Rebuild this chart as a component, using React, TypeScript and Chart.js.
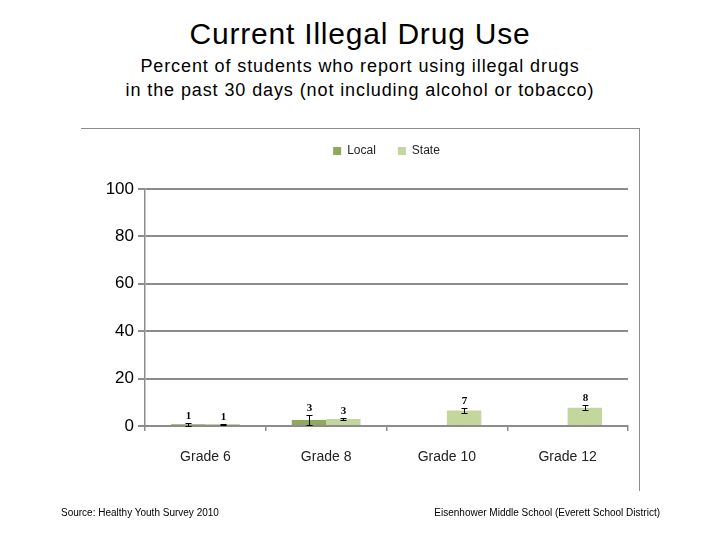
import React, { useEffect, useRef } from 'react';
import { Chart, registerables } from 'chart.js';

Chart.register(...registerables);

const categories = ['Grade 6', 'Grade 8', 'Grade 10', 'Grade 12'];
const seriesNames = ['Local', 'State'];
const localValues: (number | null)[] = [0.7, 2.5, null, null];
const stateValues: (number | null)[] = [0.8, 3.0, 6.5, 7.7];
const localLow: (number | null)[] = [0.2, 0.5, null, null];
const localHigh: (number | null)[] = [1.3, 4.6, null, null];
const stateLow: (number | null)[] = [0.6, 2.7, 5.6, 6.6];
const stateHigh: (number | null)[] = [1.0, 3.3, 7.4, 8.9];
const yMin = 0;
const yMax = 100;
const yStep = 20;

const titleText = 'Current Illegal Drug Use';
const subtitleLines = [
  'Percent of students who report using illegal drugs',
  'in the past 30 days (not including alcohol or tobacco)',
];
const sourceText = 'Source: Healthy Youth Survey 2010';
const schoolText = 'Eisenhower Middle School (Everett School District)';

const LOCAL_COLOR = '#8fa85a';
const STATE_COLOR = '#c3d69b';
const AXIS_GRAY = '#8c8c8c';

const errorBarPlugin = {
  id: 'errorBars',
  afterDatasetsDraw(chart: any) {
    const ctx = chart.ctx;
    const yScale = chart.scales.y;
    const vals = [localValues, stateValues];
    const lows = [localLow, stateLow];
    const highs = [localHigh, stateHigh];
    chart.data.datasets.forEach((_ds: any, di: number) => {
      const meta = chart.getDatasetMeta(di);
      meta.data.forEach((bar: any, i: number) => {
        const v = vals[di][i];
        const lo = lows[di][i];
        const hi = highs[di][i];
        if (v == null || lo == null || hi == null) return;
        const x = Math.round(bar.x) + 0.5;
        const yLo = Math.round(yScale.getPixelForValue(lo)) + 0.5;
        const yHi = Math.round(yScale.getPixelForValue(hi)) + 0.5;
        ctx.save();
        ctx.strokeStyle = '#000';
        ctx.lineWidth = 1;
        ctx.beginPath();
        ctx.moveTo(x, yLo);
        ctx.lineTo(x, yHi);
        ctx.moveTo(x - 3, yLo);
        ctx.lineTo(x + 3, yLo);
        ctx.moveTo(x - 3, yHi);
        ctx.lineTo(x + 3, yHi);
        ctx.stroke();
        ctx.font = 'bold 11px "Liberation Serif", "Times New Roman", serif';
        ctx.textAlign = 'center';
        ctx.textBaseline = 'bottom';
        ctx.fillStyle = '#000';
        ctx.fillText(String(Math.round(v)), x, yHi - 2);
        ctx.restore();
      });
    });
  },
};

function ChartCanvas() {
  const ref = useRef<HTMLCanvasElement | null>(null);
  useEffect(() => {
    if (!ref.current) return;
    const chart = new Chart(ref.current, {
      type: 'bar',
      data: {
        labels: categories,
        datasets: [
          {
            label: seriesNames[0],
            data: localValues,
            backgroundColor: LOCAL_COLOR,
            borderWidth: 0,
            categoryPercentage: 0.57,
            barPercentage: 1,
          },
          {
            label: seriesNames[1],
            data: stateValues,
            backgroundColor: STATE_COLOR,
            borderWidth: 0,
            categoryPercentage: 0.57,
            barPercentage: 1,
          },
        ],
      },
      options: {
        responsive: false,
        animation: false,
        devicePixelRatio: 1,
        layout: { padding: { top: 123, right: 92, bottom: 0, left: 0 } },
        plugins: {
          legend: {
            position: 'top',
            fullSize: false,
            labels: {
              boxWidth: 8,
              boxHeight: 8,
              padding: 22,
              color: '#222',
              font: { family: '"Liberation Sans", Arial, sans-serif', size: 12 },
            },
          },
          title: {
            display: true,
            text: '',
            weight: 500,
            padding: { top: 21, bottom: 0 },
            font: { size: 1, lineHeight: 1 },
          },
          tooltip: { enabled: false },
        },
        scales: {
          x: {
            grid: {
              offset: true,
              drawOnChartArea: false,
              tickLength: 5,
              color: AXIS_GRAY,
              lineWidth: 1.5,
            },
            border: { color: AXIS_GRAY, width: 2 },
            ticks: {
              padding: 18,
              color: '#222',
              font: {
                family: '"Liberation Sans Narrow", "Arial Narrow", "Liberation Sans", Arial, sans-serif',
                size: 14,
              },
            },
            afterFit(scale: any) {
              scale.height = 114;
            },
          },
          y: {
            min: yMin,
            max: yMax,
            ticks: {
              stepSize: yStep,
              padding: 4,
              color: '#000',
              font: { family: '"Liberation Sans", Arial, sans-serif', size: 17 },
            },
            grid: { color: AXIS_GRAY, lineWidth: 2, tickLength: 7 },
            border: { color: AXIS_GRAY, width: 1.5 },
            afterFit(scale: any) {
              scale.width = 145;
            },
          },
        },
      },
      plugins: [errorBarPlugin],
    } as any);
    return () => chart.destroy();
  }, []);
  return (
    <canvas
      ref={ref}
      width={720}
      height={540}
      style={{ position: 'absolute', left: 0, top: 0, width: 720, height: 540 }}
    />
  );
}

export default function App() {
  const sans = '"Liberation Sans", Arial, Helvetica, sans-serif';
  return (
    <div
      style={{
        position: 'absolute',
        left: 0,
        top: 0,
        width: 720,
        height: 540,
        background: '#fff',
        overflow: 'hidden',
        fontFamily: sans,
        color: '#000',
      }}
    >
      <div
        style={{
          position: 'absolute',
          left: 0,
          top: 16,
          width: 720,
          textAlign: 'center',
          fontSize: 30,
          lineHeight: '36px',
          letterSpacing: '0.8px',
        }}
      >
        {titleText}
      </div>
      <div
        style={{
          position: 'absolute',
          left: 0,
          top: 54,
          width: 720,
          textAlign: 'center',
          fontSize: 18,
          lineHeight: '24px',
          letterSpacing: '0.9px',
        }}
      >
        {subtitleLines.map((l, i) => (
          <div key={i}>{l}</div>
        ))}
      </div>
      <div
        style={{
          position: 'absolute',
          left: 81,
          top: 128,
          width: 558,
          height: 362,
          borderTop: `1.5px solid ${AXIS_GRAY}`,
          borderRight: `1.5px solid ${AXIS_GRAY}`,
        }}
      />
      <ChartCanvas />
      <div
        style={{
          position: 'absolute',
          left: 61,
          top: 506,
          fontSize: 10,
          lineHeight: '14px',
          whiteSpace: 'nowrap',
        }}
      >
        {sourceText}
      </div>
      <div
        style={{
          position: 'absolute',
          right: 60,
          top: 506,
          fontSize: 10,
          lineHeight: '14px',
          whiteSpace: 'nowrap',
        }}
      >
        {schoolText}
      </div>
    </div>
  );
}
